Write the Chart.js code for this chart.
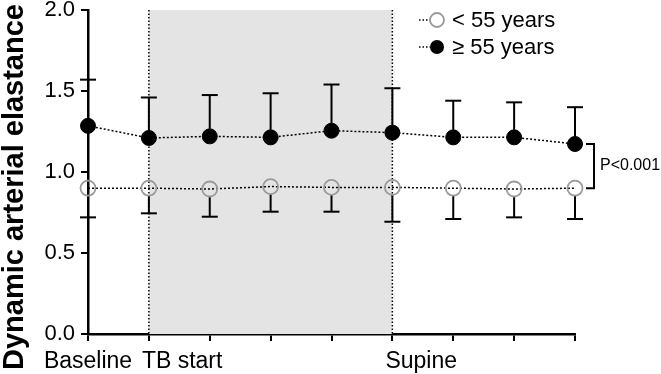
<!DOCTYPE html>
<html>
<head>
<meta charset="utf-8">
<script src="https://cdn.jsdelivr.net/npm/chart.js@4.4.1/dist/chart.umd.min.js"></script>
<style>
html,body{margin:0;padding:0;background:#fff;}
#wrap{width:661px;height:374px;position:relative;}
</style>
</head>
<body>
<div id="wrap"><canvas id="c" width="661" height="374"></canvas></div>
<script>
// ---- data ----
const categories = ["Baseline", "TB start", "", "", "", "Supine", "", "", ""];
const youngMean = [0.90, 0.90, 0.895, 0.91, 0.905, 0.905, 0.90, 0.895, 0.90];
const youngLower = [0.72, 0.745, 0.724, 0.755, 0.755, 0.693, 0.71, 0.72, 0.71];
const oldMean = [1.285, 1.21, 1.22, 1.214, 1.255, 1.243, 1.214, 1.214, 1.173];
const oldUpper = [1.57, 1.46, 1.475, 1.486, 1.54, 1.517, 1.44, 1.43, 1.40];
const yTicks = [0, 0.5, 1.0, 1.5, 2.0];
const legendLabels = ["< 55 years", "\u2265 55 years"];
const yTitle = "Dynamic arterial elastance";
const pText = "P<0.001";
const tiltStart = 1, tiltEnd = 5;

const FONT = "'Liberation Sans', Arial, Helvetica, sans-serif";
const PR = 7.5;
const TOP = 10, BOTTOM = 334;

const overlay = {
  id: 'overlay',
  beforeDatasetsDraw(chart) {
    const ctx = chart.ctx, xs = chart.scales.x, ys = chart.scales.y, a = chart.chartArea;
    const x1 = xs.getPixelForValue(tiltStart), x2 = xs.getPixelForValue(tiltEnd);
    ctx.save();
    ctx.fillStyle = '#e4e4e4';
    ctx.fillRect(x1, a.top, x2 - x1, a.bottom - a.top);
    ctx.strokeStyle = '#000';
    ctx.lineWidth = 1.5;
    ctx.setLineDash([1.5, 2]);
    [x1, x2].forEach(x => {
      ctx.beginPath(); ctx.moveTo(x, a.top); ctx.lineTo(x, a.bottom); ctx.stroke();
    });
    ctx.setLineDash([]);
    ctx.lineWidth = 2;
    const cap = 8;
    for (let i = 0; i < categories.length; i++) {
      const x = xs.getPixelForValue(i);
      const yo = ys.getPixelForValue(oldMean[i]), yu = ys.getPixelForValue(oldUpper[i]);
      ctx.beginPath(); ctx.moveTo(x, yo - PR); ctx.lineTo(x, yu); ctx.stroke();
      ctx.beginPath(); ctx.moveTo(x - cap, yu); ctx.lineTo(x + cap, yu); ctx.stroke();
      const yy = ys.getPixelForValue(youngMean[i]), yl = ys.getPixelForValue(youngLower[i]);
      ctx.beginPath(); ctx.moveTo(x, yy + PR); ctx.lineTo(x, yl); ctx.stroke();
      ctx.beginPath(); ctx.moveTo(x - cap, yl); ctx.lineTo(x + cap, yl); ctx.stroke();
    }
    ctx.restore();
  },
  afterDraw(chart) {
    const ctx = chart.ctx, xs = chart.scales.x, ys = chart.scales.y;
    ctx.save();
    ctx.fillStyle = '#000';
    ctx.font = '23px ' + FONT;
    ctx.textBaseline = 'alphabetic';
    categories.forEach((lab, i) => {
      if (!lab) return;
      const x = xs.getPixelForValue(i);
      if (i === 0) { ctx.textAlign = 'center'; ctx.fillText(lab, x, 368); }
      else { ctx.textAlign = 'left'; ctx.fillText(lab, x - 7, 368); }
    });
    ctx.save();
    ctx.translate(15, 187);
    ctx.rotate(-Math.PI / 2);
    ctx.font = 'bold 29px ' + FONT;
    ctx.textAlign = 'center';
    ctx.textBaseline = 'middle';
    ctx.fillText(yTitle, 0, 0);
    ctx.restore();
    const last = categories.length - 1;
    const yb1 = ys.getPixelForValue(oldMean[last]), yb2 = ys.getPixelForValue(youngMean[last]);
    ctx.strokeStyle = '#000'; ctx.lineWidth = 2;
    ctx.beginPath();
    ctx.moveTo(586, yb1); ctx.lineTo(594, yb1); ctx.lineTo(594, yb2); ctx.lineTo(586, yb2);
    ctx.stroke();
    ctx.font = '16px ' + FONT;
    ctx.textAlign = 'left'; ctx.textBaseline = 'middle';
    ctx.fillText(pText, 600, (yb1 + yb2) / 2);
    const ly = [20, 47];
    ctx.font = '22px ' + FONT;
    ly.forEach((y, k) => {
      ctx.setLineDash([1.5, 2]); ctx.lineWidth = 1.5; ctx.strokeStyle = '#000';
      ctx.beginPath(); ctx.moveTo(419, y); ctx.lineTo(430, y); ctx.stroke();
      ctx.setLineDash([]);
      ctx.beginPath(); ctx.arc(437, y, 7, 0, Math.PI * 2);
      if (k === 0) { ctx.strokeStyle = '#999'; ctx.lineWidth = 1.8; ctx.stroke(); }
      else { ctx.fillStyle = '#000'; ctx.fill(); }
      ctx.fillStyle = '#000';
      ctx.textAlign = 'left'; ctx.textBaseline = 'middle';
      ctx.fillText(legendLabels[k], 452, y + 1);
    });
    ctx.restore();
  }
};

new Chart(document.getElementById('c'), {
  type: 'line',
  data: {
    labels: categories,
    datasets: [
      {
        label: legendLabels[0], data: youngMean, clip: false,
        borderColor: '#000', borderWidth: 1.5, borderDash: [2, 2],
        pointRadius: PR, pointBorderColor: '#9a9a9a', pointBorderWidth: 1.8,
        pointBackgroundColor: 'rgba(0,0,0,0)', fill: false, tension: 0
      },
      {
        label: legendLabels[1], data: oldMean, clip: false,
        borderColor: '#000', borderWidth: 1.5, borderDash: [2, 2],
        pointRadius: PR, pointBorderColor: '#000', pointBorderWidth: 1,
        pointBackgroundColor: '#000', fill: false, tension: 0
      }
    ]
  },
  options: {
    responsive: false, animation: false,
    layout: { padding: { top: TOP, right: 86, left: 0, bottom: 0 } },
    plugins: { legend: { display: false }, tooltip: { enabled: false } },
    scales: {
      x: {
        type: 'category', offset: false,
        grid: { drawOnChartArea: false, drawTicks: true, tickLength: 7, color: '#000', lineWidth: 2 },
        border: { color: '#000', width: 2.5 },
        ticks: { display: false, autoSkip: false },
        afterFit(s) { s.height = 374 - BOTTOM; s.paddingLeft = 0; s.paddingRight = 0; }
      },
      y: {
        min: 0, max: 2,
        afterBuildTicks(s) { s.ticks = yTicks.map(v => ({ value: v })); },
        grid: { drawOnChartArea: false, drawTicks: true, tickLength: 7, color: '#000', lineWidth: 2 },
        border: { color: '#000', width: 2.5 },
        ticks: { color: '#000', font: { family: FONT, size: 22 }, padding: 6, callback: v => v.toFixed(1) },
        afterFit(s) { s.width = 88; s.paddingTop = 0; s.paddingBottom = 0; }
      }
    }
  },
  plugins: [overlay]
});
</script>
</body>
</html>
